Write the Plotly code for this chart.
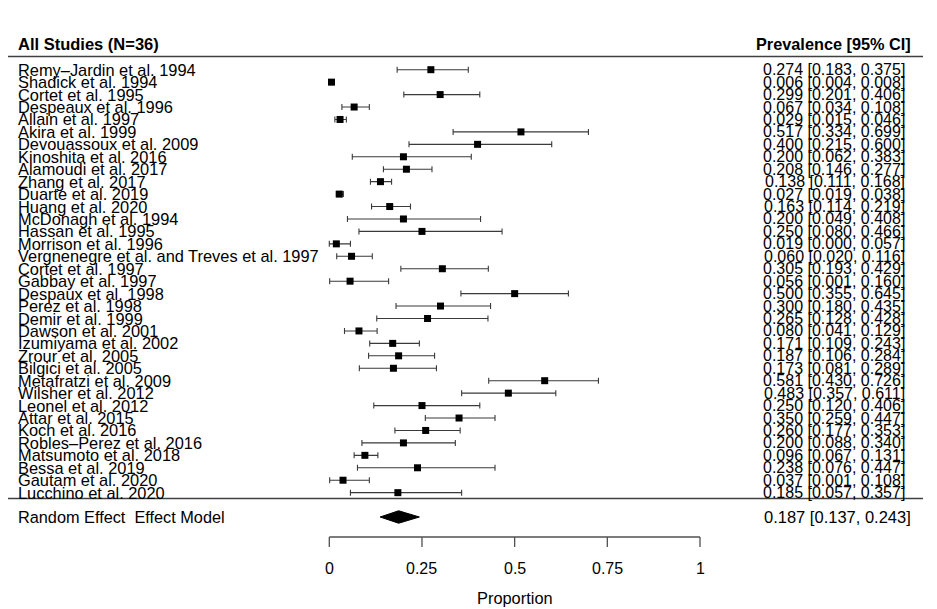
import plotly.graph_objects as go

studies = [
    "Remy–Jardin et al. 1994", "Shadick et al. 1994", "Cortet et al. 1995",
    "Despeaux et al. 1996", "Allain et al. 1997", "Akira et al. 1999",
    "Devouassoux et al. 2009", "Kinoshita et al. 2016", "Alamoudi et al. 2017",
    "Zhang et al. 2017", "Duarte et al. 2019", "Huang et al. 2020",
    "McDonagh et al. 1994", "Hassan et al. 1995", "Morrison et al. 1996",
    "Vergnenegre et al. and Treves et al. 1997", "Cortet et al. 1997",
    "Gabbay et al. 1997", "Despaux et al. 1998", "Perez et al. 1998",
    "Demir et al. 1999", "Dawson et al. 2001", "Izumiyama et al. 2002",
    "Zrour et al. 2005", "Bilgici et al. 2005", "Metafratzi et al. 2009",
    "Wilsher et al. 2012", "Leonel et al. 2012", "Attar et al. 2015",
    "Koch et al. 2016", "Robles–Perez et al. 2016", "Matsumoto et al. 2018",
    "Bessa et al. 2019", "Gautam et al. 2020", "Lucchino et al. 2020",
]
prev = [0.274, 0.006, 0.299, 0.067, 0.029, 0.517, 0.400, 0.200, 0.208, 0.138,
        0.027, 0.163, 0.200, 0.250, 0.019, 0.060, 0.305, 0.056, 0.500, 0.300,
        0.265, 0.080, 0.171, 0.187, 0.173, 0.581, 0.483, 0.250, 0.350, 0.260,
        0.200, 0.096, 0.238, 0.037, 0.185]
lower = [0.183, 0.004, 0.201, 0.034, 0.015, 0.334, 0.215, 0.062, 0.146, 0.111,
         0.019, 0.114, 0.049, 0.080, 0.000, 0.020, 0.193, 0.001, 0.355, 0.180,
         0.128, 0.041, 0.109, 0.106, 0.081, 0.430, 0.357, 0.120, 0.259, 0.177,
         0.088, 0.067, 0.076, 0.001, 0.057]
upper = [0.375, 0.008, 0.406, 0.108, 0.046, 0.699, 0.600, 0.383, 0.277, 0.168,
         0.038, 0.219, 0.408, 0.466, 0.057, 0.116, 0.429, 0.160, 0.645, 0.435,
         0.428, 0.129, 0.243, 0.284, 0.289, 0.726, 0.611, 0.406, 0.447, 0.353,
         0.340, 0.131, 0.447, 0.108, 0.357]

summary_label = "Random Effect  Effect Model"
summary_est, summary_lo, summary_hi = 0.187, 0.137, 0.243
header_left = "All Studies (N=36)"
header_right = "Prevalence [95% CI]"
tick_vals = [0, 0.25, 0.5, 0.75, 1]
tick_text = ["0", "0.25", "0.5", "0.75", "1"]
x_title = "Proportion"

# The page body has an 8px margin; work in screen pixels and subtract it.
OFF = 8
W, H = 937 - OFF, 609 - OFF
FONT = "Liberation Sans, Arial, Helvetica, sans-serif"
rows = list(range(len(studies)))

x0_px, x1_px = 329.3 - OFF, 700.0 - OFF
xs = x1_px - x0_px
row0_px, row_h = 69.7 - OFF, 12.44


def ypx(p):
    return (p - OFF - row0_px) / row_h


def xpaper(p):
    return (p - OFF) / W


fig = go.Figure()

fig.add_trace(go.Scatter(
    x=prev, y=rows, mode="markers",
    marker=dict(symbol="square", size=7, color="black"),
    error_x=dict(type="data", symmetric=False,
                 array=[u - p for u, p in zip(upper, prev)],
                 arrayminus=[p - l for p, l in zip(prev, lower)],
                 color="#3a3a3a", thickness=1.1, width=3),
    hoverinfo="skip", showlegend=False,
))

ys = ypx(517)
hh = 0.5
fig.add_trace(go.Scatter(
    x=[summary_lo, summary_est, summary_hi, summary_est, summary_lo],
    y=[ys, ys - hh, ys, ys + hh, ys],
    mode="lines", fill="toself", fillcolor="black",
    line=dict(color="black", width=1), hoverinfo="skip", showlegend=False,
))

ann = []
for i, s in enumerate(studies):
    ann.append(dict(x=xpaper(16), xref="paper", y=i, yref="y", text=s,
                    xanchor="left", yanchor="middle", showarrow=False,
                    font=dict(size=16.4, family=FONT, color="black")))
    ann.append(dict(x=xpaper(907), xref="paper", y=i, yref="y",
                    text=f"{prev[i]:.3f} [{lower[i]:.3f}, {upper[i]:.3f}]",
                    xanchor="right", yanchor="middle", showarrow=False,
                    font=dict(size=16, family=FONT, color="black")))

ann.append(dict(x=xpaper(16), xref="paper", y=ypx(44), yref="y", text=f"<b>{header_left}</b>",
                xanchor="left", yanchor="middle", showarrow=False,
                font=dict(size=16.5, family=FONT, color="black")))
ann.append(dict(x=xpaper(913), xref="paper", y=ypx(44), yref="y", text=f"<b>{header_right}</b>",
                xanchor="right", yanchor="middle", showarrow=False,
                font=dict(size=16.3, family=FONT, color="black")))
ann.append(dict(x=xpaper(16), xref="paper", y=ys, yref="y", text=summary_label,
                xanchor="left", yanchor="middle", showarrow=False,
                font=dict(size=16.3, family=FONT, color="black")))
ann.append(dict(x=xpaper(913), xref="paper", y=ys, yref="y",
                text=f"{summary_est:.3f} [{summary_lo:.3f}, {summary_hi:.3f}]",
                xanchor="right", yanchor="middle", showarrow=False,
                font=dict(size=16.5, family=FONT, color="black")))

for tv, tt in zip(tick_vals, tick_text):
    ann.append(dict(x=tv, xref="x", y=ypx(568), yref="y", text=tt,
                    xanchor="center", yanchor="middle", showarrow=False,
                    font=dict(size=16, family=FONT, color="black")))
ann.append(dict(x=0.5, xref="x", y=ypx(598), yref="y", text=x_title,
                xanchor="center", yanchor="middle", showarrow=False,
                font=dict(size=16.4, family=FONT, color="black")))

shapes = [
    dict(type="line", xref="paper", yref="y", x0=xpaper(5), x1=xpaper(923),
         y0=ypx(56.5), y1=ypx(56.5), line=dict(color="#404040", width=1.6)),
    dict(type="line", xref="paper", yref="y", x0=xpaper(5), x1=xpaper(923),
         y0=ypx(498.5), y1=ypx(498.5), line=dict(color="#404040", width=1.6)),
    dict(type="line", xref="x", yref="y", x0=tick_vals[0], x1=tick_vals[-1],
         y0=ypx(537), y1=ypx(537), line=dict(color="#505050", width=1.3)),
]
for tv in tick_vals:
    shapes.append(dict(type="line", xref="x", yref="y", x0=tv, x1=tv,
                       y0=ypx(537), y1=ypx(547), line=dict(color="#505050", width=1.3)))

fig.update_layout(
    width=W, height=H, margin=dict(l=0, r=0, t=0, b=0),
    paper_bgcolor="white", plot_bgcolor="white",
    xaxis=dict(range=[-x0_px / xs, (W - x0_px) / xs], visible=False, fixedrange=True),
    yaxis=dict(range=[ypx(609), ypx(OFF)], visible=False, fixedrange=True),
    annotations=ann, shapes=shapes, showlegend=False,
)

fig.write_html("out.html")
